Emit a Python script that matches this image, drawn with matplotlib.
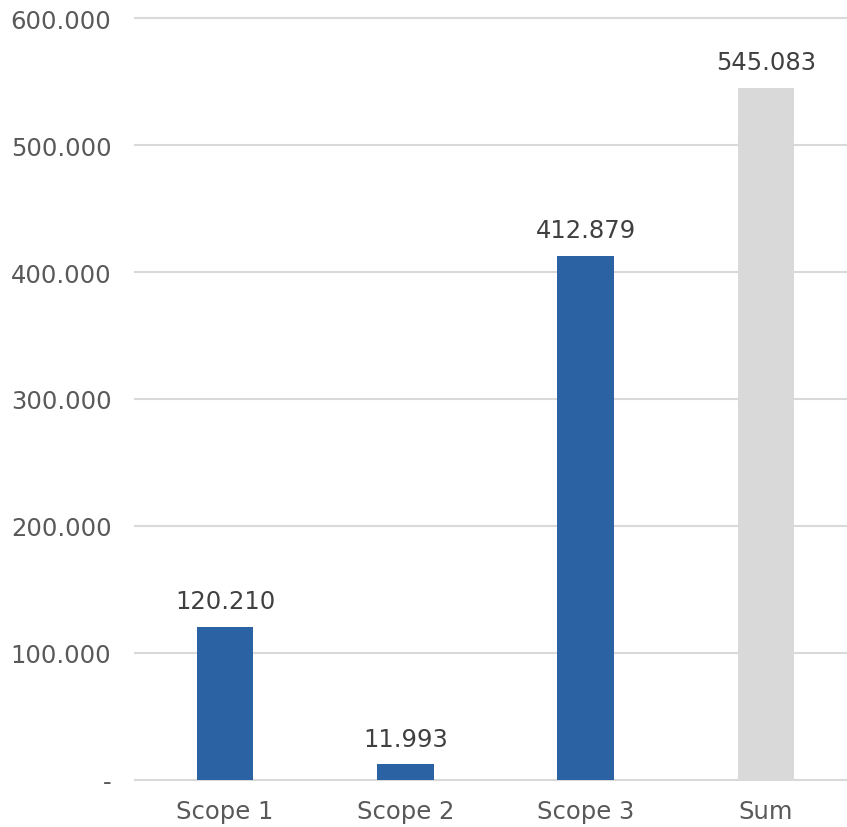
import matplotlib
matplotlib.use("Agg")
import matplotlib.pyplot as plt
from matplotlib.ticker import FuncFormatter, MultipleLocator

categories = ["Scope 1", "Scope 2", "Scope 3", "Sum"]
values = [120210, 11993, 412879, 545083]
bar_colors = ["#2A62A3", "#2A62A3", "#2A62A3", "#D9D9D9"]


def thousands(v):
    if v == 0:
        return "-"
    return f"{v:,.0f}".replace(",", ".")


plt.rcParams["font.family"] = ["DejaVu Sans"]

fig = plt.figure(figsize=(8.47, 8.28), dpi=100)
ax = fig.add_axes([135 / 847, (828 - 780.7) / 828, 721 / 847, (780.7 - 19.3) / 828])

x = range(len(categories))
bars = ax.bar(x, values, width=0.314, color=bar_colors, zorder=3)

for rect, v in zip(bars, values):
    ax.annotate(thousands(v), (rect.get_x() + rect.get_width() / 2, v),
                xytext=(0, 10), textcoords="offset points",
                ha="center", va="bottom", fontsize=17.5, color="#404040")

ax.set_xlim(-0.5, len(categories) - 0.5)
ax.set_ylim(0, 600000)
ax.yaxis.set_major_locator(MultipleLocator(100000))
ax.yaxis.set_major_formatter(FuncFormatter(lambda v, p: thousands(v)))
ax.set_xticks(list(x))
ax.set_xticklabels(categories)

ax.grid(axis="y", color="#D9D9D9", linewidth=1.5, zorder=0)
for gl in ax.get_ygridlines():
    gl.set_clip_on(False)
for s in ax.spines.values():
    s.set_visible(False)
ax.tick_params(axis="both", length=0, labelsize=17.5, labelcolor="#595959")
ax.tick_params(axis="y", pad=17)
ax.tick_params(axis="x", pad=14)

fig.savefig("out.png", dpi=100)
